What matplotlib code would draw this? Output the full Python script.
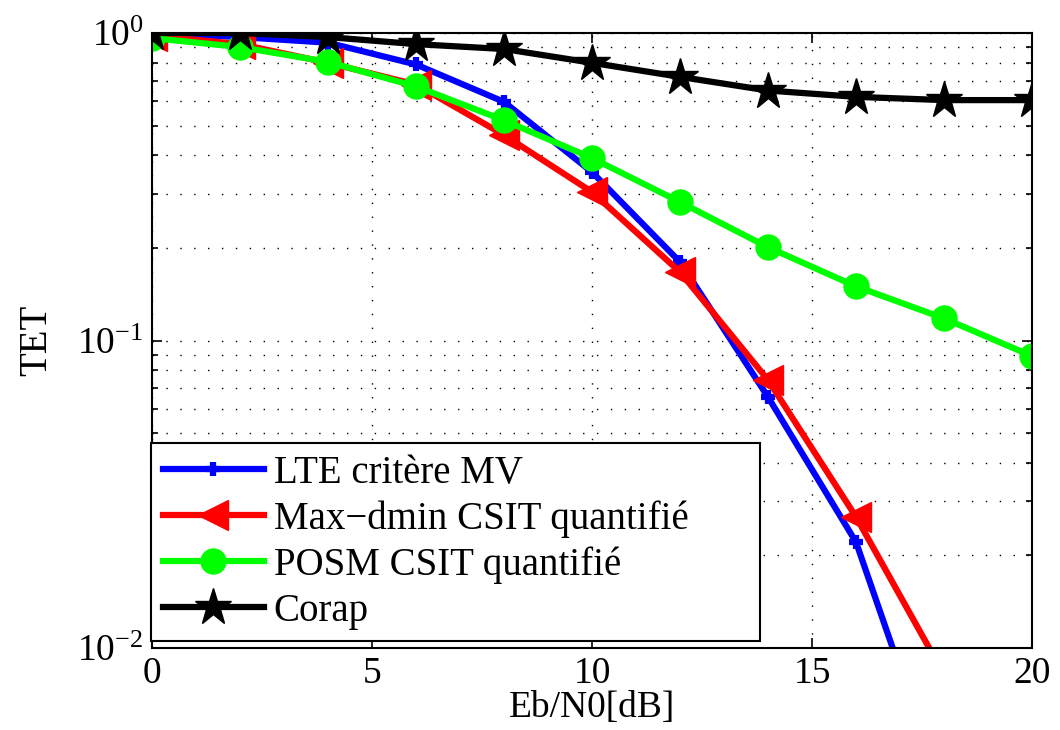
import matplotlib
matplotlib.use('Agg')
import matplotlib.pyplot as plt
from matplotlib.ticker import LogLocator, LogFormatterMathtext, NullFormatter

plt.rcParams['font.family'] = ['Liberation Serif', 'DejaVu Serif']
plt.rcParams['mathtext.fontset'] = 'stix'

snr = [0, 2, 4, 6, 8, 10, 12, 14, 16, 18, 20]
lte = [1.0, 0.97, 0.93, 0.79, 0.597, 0.353, 0.18, 0.0655, 0.0221, 0.0033, 0.0005]
maxdmin = [0.98, 0.92, 0.80, 0.68, 0.466, 0.304, 0.167, 0.0744, 0.0267, 0.0082, 0.002]
posm = [0.963, 0.90, 0.805, 0.67, 0.52, 0.392, 0.282, 0.201, 0.150, 0.118, 0.089]
corap = [1.0, 1.0, 0.97, 0.92, 0.887, 0.80, 0.72, 0.65, 0.62, 0.605, 0.605]

labels = ['LTE critère MV', 'Max\u2212dmin CSIT quantifié',
          'POSM CSIT quantifié', 'Corap']

fig = plt.figure(figsize=(10.6, 7.3), dpi=100)
ax = fig.add_axes([0.1434, 0.1123, 0.8302, 0.8425])

ax.plot(snr, lte, color='#0000ff', lw=4.5, marker='+', ms=10, mew=4.5, label=labels[0])
ax.plot(snr, maxdmin, color='#ff0000', lw=4.5, marker='<', ms=22, label=labels[1])
ax.plot(snr, posm, color='#00ff00', lw=4.5, marker='o', ms=18, label=labels[2])
ax.plot(snr, corap, color='black', lw=4.5, marker='*', ms=28, label=labels[3])

ax.set_yscale('log')
ax.set_xlim(0, 20)
ax.set_ylim(1e-2, 1)
ax.set_xticks([0, 5, 10, 15, 20])
ax.yaxis.set_major_locator(LogLocator(base=10))
ax.yaxis.set_major_formatter(LogFormatterMathtext())
ax.yaxis.set_minor_locator(LogLocator(base=10, subs=range(2, 10)))
ax.yaxis.set_minor_formatter(NullFormatter())

dots = (0, (1, 9))
ax.grid(True, which='major', color='black', ls=dots, lw=1.0)
ax.grid(True, which='minor', axis='y', color='black', ls=dots, lw=1.0)

ax.tick_params(which='both', direction='in', top=True, right=True, width=1.2)
ax.tick_params(which='major', length=7, labelsize=27, pad=6)
ax.tick_params(which='minor', length=4)
for s in ax.spines.values():
    s.set_linewidth(1.5)

ax.set_xlabel('Eb/N0[dB]', fontsize=27, labelpad=0)
ax.set_ylabel('TET', fontsize=28, labelpad=16)

leg = ax.legend(loc='lower left', bbox_to_anchor=(-0.001, 0.011, 0.692, 0.3),
                mode='expand', fontsize=28,
                fancybox=False, edgecolor='black', framealpha=1,
                handlelength=2.6, handletextpad=0.25, labelspacing=0.22,
                borderpad=0.3, borderaxespad=0)
leg.get_frame().set_linewidth(1.5)

fig.savefig('out.png', dpi=100)
